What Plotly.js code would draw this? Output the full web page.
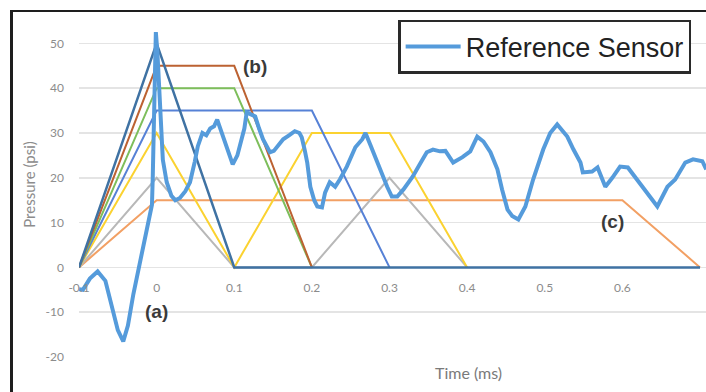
<!DOCTYPE html>
<html>
<head>
<meta charset="utf-8">
<script src="https://cdn.plot.ly/plotly-3.0.1.min.js"></script>
<style>
  html, body { margin: 0; padding: 0; background: #fff; overflow: hidden; }
  #wrap { position: relative; width: 706px; height: 392px; overflow: hidden; }
  #chart { position: absolute; left: 0; top: 0; width: 706px; height: 392px; }
  #frame { position: absolute; left: 10px; top: 10px; width: 710px; height: 400px;
           border-left: 3px solid #1e1e1e; border-top: 2px solid #1e1e1e; pointer-events: none; }
</style>
</head>
<body>
<div id="wrap">
  <div id="chart"></div>
  <div id="frame"></div>
</div>
<script>
// ---- data ----
const xTickVals = [-0.1, 0, 0.1, 0.2, 0.3, 0.4, 0.5, 0.6, 0.7];
const xTickText = ["-0.1", "0", "0.1", "0.2", "0.3", "0.4", "0.5", "0.6", "0.7"];
const yTickVals = [-20, -10, 0, 10, 20, 30, 40, 50];
const yTickText = ["-20", "-10", "0", "10", "20", "30", "40", "50"];

const sensorTime = [-0.100,-0.095,-0.086,-0.076,-0.066,-0.057,-0.050,-0.043,-0.037,-0.030,-0.025,-0.020,-0.014,-0.009,-0.006,-0.005,-0.003,-0.002,-0.001,0.001,0.004,0.008,0.013,0.019,0.024,0.030,0.037,0.043,0.049,0.053,0.059,0.064,0.069,0.074,0.078,0.082,0.088,0.095,0.098,0.104,0.107,0.113,0.116,0.122,0.127,0.132,0.137,0.142,0.146,0.151,0.155,0.163,0.171,0.178,0.184,0.187,0.191,0.194,0.198,0.203,0.207,0.213,0.217,0.223,0.230,0.236,0.245,0.256,0.265,0.269,0.275,0.281,0.288,0.297,0.303,0.310,0.318,0.327,0.330,0.339,0.348,0.356,0.365,0.372,0.382,0.394,0.404,0.413,0.421,0.430,0.439,0.445,0.452,0.458,0.466,0.475,0.485,0.498,0.507,0.516,0.522,0.529,0.537,0.546,0.549,0.561,0.568,0.578,0.587,0.597,0.607,0.619,0.632,0.645,0.658,0.668,0.681,0.691,0.703,0.708];
const sensorPressure = [-4.9,-5.0,-2.5,-0.9,-3.0,-9.0,-14.0,-16.5,-13.0,-6.0,-2.0,3.0,7.8,11.4,14.0,20.0,35.0,45.0,52.5,48.0,38.0,24.0,19.0,16.0,15.0,15.5,17.0,19.0,23.5,27.0,30.0,29.5,31.0,31.5,33.0,31.0,28.0,25.0,23.0,25.0,27.0,31.0,34.6,34.0,33.7,31.0,28.6,27.0,25.7,26.0,26.8,28.6,29.5,30.4,30.0,29.0,26.0,23.4,18.0,15.0,13.6,13.4,16.7,19.0,18.0,19.6,22.5,26.8,28.6,30.0,27.5,24.8,21.9,18.0,15.8,15.8,17.4,19.6,20.3,23.0,25.7,26.3,25.9,26.0,23.4,24.6,25.9,29.2,28.1,25.7,21.9,17.4,12.9,11.5,10.7,13.6,19.6,26.3,30.0,31.9,30.5,29.2,26.3,23.4,21.2,21.4,22.3,18.0,20.0,22.5,22.3,19.6,16.7,13.6,18.0,19.6,23.4,24.1,23.7,21.9];

const darkTime = [-0.1, 0, 0.1, 0.7];
const darkPressure = [0, 50, 0, 0];
const brownTime = [-0.1, 0, 0.1, 0.2];
const brownPressure = [0, 45, 45, 0];
const greenTime = [-0.1, 0, 0.1, 0.2];
const greenPressure = [0, 40, 40, 0];
const blueTime = [-0.1, 0, 0.2, 0.3];
const bluePressure = [0, 35, 35, 0];
const yellowTime = [-0.1, 0, 0.1, 0.2, 0.3, 0.4];
const yellowPressure = [0, 30, 0, 30, 30, 0];
const grayTime = [-0.1, 0, 0.1, 0.2, 0.3, 0.4];
const grayPressure = [0, 20, 0, 0, 20, 0];
const orangeTime = [-0.1, 0, 0.6, 0.7];
const orangePressure = [0, 15, 15, 0];

const labelText = ["(a)", "(b)", "(c)"];
const labelX = [0.0, 0.127, 0.587];
const labelY = [-9.8, 44.9, 10.3];

// ---- traces ----
function profile(x, y, color, w) {
  return { x: x, y: y, type: 'scatter', mode: 'lines', showlegend: false,
           hoverinfo: 'skip', line: { color: color, width: w || 2 } };
}
const traces = [
  profile(orangeTime, orangePressure, '#F2A064'),
  profile(grayTime, grayPressure, '#B8B8B8'),
  profile(yellowTime, yellowPressure, '#FBD230'),
  profile(blueTime, bluePressure, '#5681D6'),
  profile(greenTime, greenPressure, '#7DBE5B'),
  profile(brownTime, brownPressure, '#BC6232'),
  profile(darkTime, darkPressure, '#3F72A3', 2.5),
  { x: sensorTime, y: sensorPressure, type: 'scatter', mode: 'lines', name: 'Reference Sensor',
    line: { color: '#559BDB', width: 4 } }
];

const annotations = labelText.map((t, i) => ({
  x: labelX[i], y: labelY[i], xref: 'x', yref: 'y', text: t, showarrow: false,
  font: { family: 'Liberation Sans, Arial, sans-serif', size: 19, color: '#3a3a3a', weight: 'bold' }
}));
annotations.push({
  x: (468 - 79) / 627, xref: 'paper', y: -0.046, yref: 'paper', yanchor: 'middle', xanchor: 'center',
  text: 'Time (ms)', showarrow: false,
  font: { family: 'Lato, sans-serif', size: 16, color: '#7a7a7a' }
});

const layout = {
  width: 706, height: 392,
  margin: { l: 79, r: 0, t: 12, b: 35 },
  paper_bgcolor: '#ffffff', plot_bgcolor: '#ffffff',
  showlegend: true,
  legend: {
    x: 0.509, y: 0.977, xanchor: 'left', yanchor: 'top',
    bgcolor: '#ffffff', bordercolor: '#2a2a2a', borderwidth: 2.5,
    font: { family: 'Liberation Sans, Arial, sans-serif', size: 27, color: '#222' },
    itemwidth: 55, entrywidth: 309, entrywidthmode: 'pixels'
  },
  xaxis: {
    range: [-0.1, 0.7077], anchor: 'free', position: 20 / 77,
    tickmode: 'array', tickvals: xTickVals, ticktext: xTickText,
    showgrid: false, zeroline: false, showline: false,
    ticks: '', ticklabelstandoff: 12,
    tickfont: { family: 'Lato, sans-serif', size: 12, color: '#8c8c8c' }
  },
  yaxis: {
    range: [-20, 57], tickmode: 'array', tickvals: yTickVals, ticktext: yTickText,
    showgrid: true, gridcolor: '#e4e4e4', gridwidth: 1.5, zeroline: false, showline: false,
    ticks: '', ticklabelstandoff: 14,
    tickfont: { family: 'Lato, sans-serif', size: 12, color: '#8c8c8c' },
    title: { text: 'Pressure (psi)', standoff: 6,
             font: { family: 'Lato, sans-serif', size: 15, color: '#8c8c8c' } }
  },
  annotations: annotations
};

Plotly.newPlot('chart', traces, layout, { displayModeBar: false, staticPlot: true });
</script>
</body>
</html>
